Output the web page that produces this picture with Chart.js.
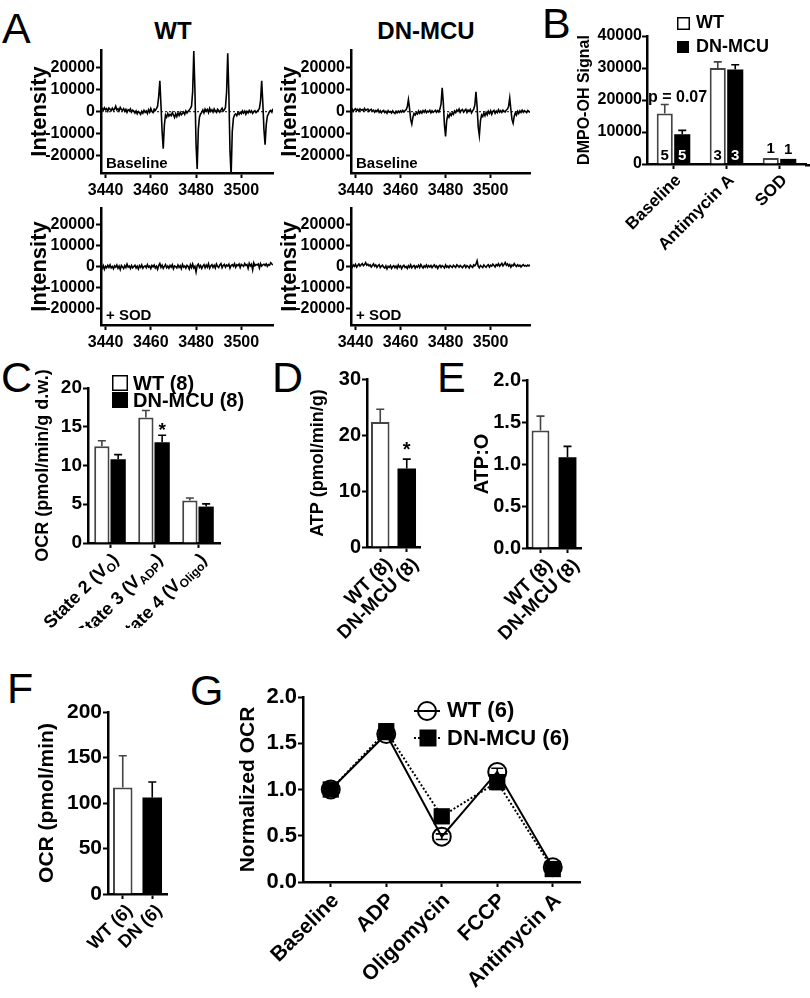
<!DOCTYPE html>
<html><head><meta charset="utf-8">
<script src="https://cdn.jsdelivr.net/npm/chart.js@4.4.0/dist/chart.umd.min.js"></script>
<style>
html,body{margin:0;padding:0;background:#fff;}
#wrap{position:relative;width:810px;height:998px;overflow:hidden;background:#fff;}
canvas{position:absolute;}
.lt{position:absolute;font-family:"Liberation Sans",Arial,sans-serif;font-weight:400;font-size:43px;line-height:1;color:#000;}
.ttl{position:absolute;font-family:"Liberation Sans",Arial,sans-serif;font-weight:700;font-size:24px;line-height:1;color:#000;transform:translateX(-50%);white-space:nowrap;}
</style></head><body><div id="wrap">
<div class="lt" style="left:2px;top:7px">A</div>
<div class="lt" style="left:542px;top:2px">B</div>
<div class="lt" style="left:1px;top:356px">C</div>
<div class="lt" style="left:272px;top:356px">D</div>
<div class="lt" style="left:437px;top:356px">E</div>
<div class="lt" style="left:7px;top:667px">F</div>
<div class="lt" style="left:190px;top:669px">G</div>
<div class="ttl" style="left:173px;top:19px">WT</div>
<div class="ttl" style="left:426px;top:19px">DN-MCU</div>
</div>
<script>
// ---------------- DATA ----------------
const aField = [3438,3438.5,3439,3439.5,3440,3440.5,3441,3441.5,3442,3442.5,
3443,3443.5,3444,3444.5,3445,3445.5,3446,3446.5,3447,3447.5,
3448,3448.5,3449,3449.5,3450,3450.5,3451,3451.5,3452,3452.5,
3453,3453.5,3454,3454.5,3455,3455.5,3456,3456.5,3457,3457.5,
3458,3458.5,3459,3459.5,3460,3460.5,3461,3461.5,3462,3462.5,
3463,3463.5,3464,3464.5,3465,3465.5,3466,3466.5,3467,3467.5,
3468,3468.5,3469,3469.5,3470,3470.5,3471,3471.5,3472,3472.5,
3473,3473.5,3474,3474.5,3475,3475.5,3476,3476.5,3477,3477.5,
3478,3478.5,3479,3479.5,3480,3480.5,3481,3481.5,3482,3482.5,
3483,3483.5,3484,3484.5,3485,3485.5,3486,3486.5,3487,3487.5,
3488,3488.5,3489,3489.5,3490,3490.5,3491,3491.5,3492,3492.5,
3493,3493.5,3494,3494.5,3495,3495.5,3496,3496.5,3497,3497.5,
3498,3498.5,3499,3499.5,3500,3500.5,3501,3501.5,3502,3502.5,
3503,3503.5,3504,3504.5,3505,3505.5,3506,3506.5,3507,3507.5,
3508,3508.5,3509,3509.5,3510,3510.5,3511,3511.5,3512,3512.5,
3513,3513.5,3514,3514.5,3515,3515.5,3516,3516.5,3517,3517.5,3518];

const aWTBase = [800,1500,600,1800,900,1400,300,1700,1100,500,
1600,700,1200,2500,800,1300,400,1900,1000,600,
1400,200,1100,-300,900,500,1300,-200,700,300,
-600,400,-900,100,-400,-1200,200,-700,600,-300,
300,-800,900,-200,1500,100,-400,1200,600,1400,
2500,7000,14000,3000,-9000,-16800,-6000,-1500,-2500,-800,
-2000,-1200,-1800,-400,-1500,-2600,-900,-2200,-600,-1700,
-300,-1400,-800,-100,-1200,300,-600,200,800,1500,
2500,9000,27500,10000,-15000,-26000,-8000,-2500,-1000,-300,
800,-500,1200,300,1000,-400,1500,200,900,-200,
1300,400,-300,1100,600,-200,800,1600,300,900,
2000,9000,26500,8000,-18000,-29000,-9000,-3000,-1500,-1000,
-1800,-400,-1200,-200,-900,400,-600,300,-1100,200,
-500,600,-300,400,-700,100,500,-400,200,700,
1500,5000,14000,4000,-8000,-15000,-6000,-2000,-1000,200,
600,-200,1300];

const aDNBase = [600,1200,200,1000,1400,500,1100,300,1300,700,
1000,400,1500,600,900,1200,200,800,1100,300,
700,-200,600,100,900,-300,400,-500,300,600,
-400,200,-700,500,-200,100,-600,400,-300,-800,
200,-500,300,-300,400,-200,600,-100,500,900,
2200,5500,1500,-3500,-5600,-2500,-800,-1500,-400,-1000,
300,-700,200,-600,500,-200,700,-400,300,-100,
600,-500,400,-300,200,700,-200,500,-100,1200,
3500,10800,4000,-6000,-11200,-4000,-1500,-2500,-800,-1700,
-500,-1200,300,-400,800,200,1200,-300,600,1000,
-200,500,1100,-300,700,200,1000,-500,400,1200,
3000,9000,2500,-7000,-10800,-4000,-1500,-2200,-600,-1800,
-300,-1400,200,-800,400,-1200,100,600,-700,300,
-400,900,-200,500,-300,700,200,-100,800,1200,
2500,6200,1000,-3500,-5200,-2000,-500,-1500,200,-800,
400,-300,700,-200,500,100,-400,600,200,-300,400];

const aWTSOD = [300,-800,500,-1200,200,-500,700,-300,900,-600,
100,-1000,400,-200,800,-700,300,-1300,600,-100,
-900,500,-400,1200,-200,300,-800,600,-500,100,
700,-600,200,-1100,500,-300,900,-700,100,400,
-500,1000,-200,300,-900,600,-100,800,-600,200,
-1200,500,1500,-300,700,-800,200,1000,-500,300,
-700,600,-200,900,-1000,400,100,-600,800,-300,
500,-900,1100,-200,300,-700,600,100,-1100,900,
-400,1300,-600,200,-2500,500,1200,-300,600,-800,
300,1000,-500,800,-200,1400,-700,400,1000,-300,
700,-600,1300,200,-400,900,1500,-500,600,1100,
-200,800,300,1200,-700,600,1000,200,1400,-300,
900,500,1300,-400,1100,700,200,1500,600,1000,
-800,1600,400,1200,-1500,1800,500,1100,800,1300,
-600,1500,300,900,1200,600,1400,200,1000,700,
1900,1300,800];

const aDNSOD = [400,-300,800,200,1100,-200,600,1300,300,900,
1500,500,1000,2000,700,1200,400,900,-100,600,
1400,200,800,-300,500,1000,-400,300,700,-200,
-600,400,-1000,200,-300,600,-800,100,500,-500,
300,-700,800,-200,400,-900,200,700,-400,100,
-800,500,-300,900,-500,200,600,-700,300,-200,
700,-400,1000,100,-600,400,-200,800,-300,500,
-100,600,-500,300,900,-200,400,-800,200,700,
-300,500,100,-600,800,-200,300,-500,600,100,
-400,700,200,-300,900,400,-200,600,100,-500,
300,800,-400,500,100,-600,700,200,-300,900,
400,1200,2800,300,-500,600,100,-400,800,200,
-300,500,900,-200,700,300,1200,600,-100,1000,
500,1400,200,900,1600,400,1100,2000,700,1300,
300,1000,-200,800,400,1500,600,100,900,300,
700,-100,500,1000,300,600,200,800,400,900,300];

const aXTicks = [3440, 3460, 3480, 3500];
const aYTicks = [-20000, -10000, 0, 10000, 20000];

const bCats = ['Baseline', 'Antimycin A', 'SOD'];
const bWT = [15800, 30000, 1900];
const bWTErr = [2800, 1900, 0];
const bDN = [9300, 29500, 1600];
const bDNErr = [1200, 1500, 0];
const bNWT = ['5', '3', '1'];
const bNDN = ['5', '3', '1'];
const bYTicks = [0, 10000, 20000, 30000, 40000];

const cLabelMain = ['State 2 (V', 'State 3 (V', 'State 4 (V'];
const cLabelSub = ['O', 'ADP', 'Oligo'];
const cWT = [12.5, 16.2, 5.5];
const cWTErr = [0.7, 0.9, 0.3];
const cDN = [10.8, 13.0, 4.7];
const cDNErr = [0.6, 0.9, 0.35];
const cDNStar = [false, true, false];
const cYTicks = [0, 5, 10, 15, 20];

const dCats = ['WT (8)', 'DN-MCU (8)'];
const dVals = [22.3, 14.0];
const dErr = [2.3, 1.7];
const dStar = [false, true];
const dYTicks = [0, 10, 20, 30];

const eCats = ['WT (8)', 'DN-MCU (8)'];
const eVals = [1.40, 1.08];
const eErr = [0.17, 0.13];
const eYTicks = [0, 0.5, 1, 1.5, 2];
const eYLabels = ['0.0', '0.5', '1.0', '1.5', '2.0'];

const fCats = ['WT (6)', 'DN (6)'];
const fVals = [117, 106];
const fErr = [35, 17];
const fYTicks = [0, 50, 100, 150, 200];

const gCats = ['Baseline', 'ADP', 'Oligomycin', 'FCCP', 'Antimycin A'];
const gWT = [1.0, 1.60, 0.49, 1.19, 0.16];
const gWTErr = [0.02, 0.06, 0.03, 0.04, 0.02];
const gDN = [1.0, 1.63, 0.71, 1.08, 0.14];
const gDNErr = [0.03, 0.08, 0.03, 0.08, 0.03];
const gYTicks = [0, 0.5, 1, 1.5, 2];
const gYLabels = ['0.0', '0.5', '1.0', '1.5', '2.0'];

// ---------------- HELPERS ----------------
const FONT = '"Liberation Sans", Arial, Helvetica, sans-serif';
Chart.defaults.font.family = FONT;
Chart.defaults.color = '#000';
const wrap = document.getElementById('wrap');

function txt(ctx, s, x, y, size, o) {
  o = o || {};
  ctx.save();
  ctx.font = (o.weight || 'bold') + ' ' + size + 'px ' + FONT;
  ctx.fillStyle = o.color || '#000';
  ctx.textAlign = o.align || 'left';
  ctx.textBaseline = o.base || 'middle';
  ctx.fillText(s, x, y);
  ctx.restore();
}
function rotLabel(ctx, x, y, main, sub, size, subSize) {
  ctx.save();
  ctx.translate(x, y);
  ctx.rotate(-Math.PI / 4);
  ctx.fillStyle = '#000';
  ctx.textBaseline = 'middle';
  ctx.textAlign = 'left';
  const big = 'bold ' + size + 'px ' + FONT, small = 'bold ' + subSize + 'px ' + FONT;
  ctx.font = big; const w1 = ctx.measureText(main).width; const w3 = sub ? ctx.measureText(')').width : 0;
  ctx.font = small; const w2 = sub ? ctx.measureText(sub).width : 0;
  let cx = -(w1 + w2 + w3);
  ctx.font = big; ctx.fillText(main, cx, 0); cx += w1;
  if (sub) {
    ctx.font = small; ctx.fillText(sub, cx, size * 0.28); cx += w2;
    ctx.font = big; ctx.fillText(')', cx, 0);
  }
  ctx.restore();
}
function yScale(o) {
  return {
    type: 'linear', position: 'left', min: o.min, max: o.max,
    afterBuildTicks: s => { s.ticks = o.ticks.map(v => ({ value: v })); },
    border: { display: true, color: '#000', width: 2.5 },
    grid: { display: true, drawOnChartArea: false, drawTicks: true, tickLength: 5, tickColor: '#000', tickWidth: 2 },
    ticks: { autoSkip: false, padding: o.pad == null ? 1 : o.pad, color: '#000',
      font: { family: FONT, size: o.size, weight: 'bold' },
      callback: (v, i) => o.labels ? o.labels[i] : String(v) },
    title: { display: true, text: o.title, color: '#000',
      font: { family: FONT, size: o.tsize, weight: 'bold' }, padding: { top: 0, bottom: 0 } }
  };
}
function xCat() {
  return {
    type: 'category', position: 'bottom', offset: true,
    border: { display: true, color: '#000', width: 2.5 },
    grid: { display: true, offset: false, drawOnChartArea: false, drawTicks: true, tickLength: 5, tickColor: '#000', tickWidth: 2 },
    ticks: { display: false }
  };
}
function makeChart(g, type, data, scales, hooks) {
  const cl = g.L - g.yw, ct = g.T - g.pt;
  const cw = g.R - g.L + g.yw + g.pr, ch = g.B - g.T + g.pt + g.xh;
  const c = document.createElement('canvas');
  c.width = cw; c.height = ch;
  c.style.left = cl + 'px'; c.style.top = ct + 'px';
  c.style.width = cw + 'px'; c.style.height = ch + 'px';
  wrap.appendChild(c);
  scales.y.title.padding = { top: g.titleX - cl - scales.y.title.font.size * 0.6, bottom: 0 };
  scales.y.afterFit = s => { s.width = g.yw; s.paddingTop = 0; s.paddingBottom = 0; s.paddingLeft = 0; s.paddingRight = 0; };
  scales.x.afterFit = s => { s.height = g.xh; s.paddingTop = 0; s.paddingBottom = 0; s.paddingLeft = 0; s.paddingRight = 0; };
  const o = { x: cl, y: ct };
  const run = (fn, chart) => { if (!fn) return; const ctx = chart.ctx; ctx.save(); ctx.translate(-cl, -ct); fn(chart, ctx, o); ctx.restore(); };
  return new Chart(c, {
    type, data,
    options: {
      responsive: false, maintainAspectRatio: false, animation: false, devicePixelRatio: 1,
      layout: { padding: { left: 0, top: g.pt, right: g.pr, bottom: 0 } },
      scales,
      plugins: { legend: { display: false }, tooltip: { enabled: false } }
    },
    plugins: [{ id: 'extra',
      beforeDatasetsDraw(chart) { run(hooks && hooks.pre, chart); },
      afterDatasetsDraw(chart) { run(hooks && hooks.post, chart); } }]
  });
}
function barErrs(chart, ctx, o, ds, errs, colors, cap) {
  const meta = chart.getDatasetMeta(ds), ys = chart.scales.y, vals = chart.data.datasets[ds].data;
  meta.data.forEach((b, i) => {
    if (!errs[i]) return;
    const x = b.x + o.x, y0 = b.y + o.y, y1 = ys.getPixelForValue(vals[i] + errs[i]) + o.y;
    ctx.save();
    ctx.strokeStyle = Array.isArray(colors) ? colors[i] : colors;
    ctx.lineWidth = 1.6;
    ctx.beginPath(); ctx.moveTo(x, y0); ctx.lineTo(x, y1);
    ctx.moveTo(x - cap / 2, y1); ctx.lineTo(x + cap / 2, y1); ctx.stroke();
    ctx.restore();
  });
}
function xLabels(chart, ctx, o, mains, subs, size, subSize, dx) {
  const xs = chart.scales.x, bottom = chart.chartArea.bottom + o.y;
  mains.forEach((m, i) => {
    const x = xs.getPixelForValue(i) + o.x;
    rotLabel(ctx, x + (dx == null ? 6 : dx), bottom + 6 + size * 0.45, m, subs ? subs[i] : '', size, subSize);
  });
}

// ---------------- PANEL A ----------------
function aChart(g, arr, xmax, note, zero) {
  const pts = arr.map((v, i) => ({ x: aField[i], y: v }));
  const y = yScale({ min: -27800, max: 28000, ticks: aYTicks, size: 16, title: 'Intensity', tsize: 22 });
  const x = {
    type: 'linear', position: 'bottom', min: 3438, max: xmax,
    afterBuildTicks: s => { s.ticks = aXTicks.map(v => ({ value: v })); },
    border: { display: true, color: '#000', width: 2.5 },
    grid: { display: true, drawOnChartArea: false, drawTicks: true, tickLength: 5, tickColor: '#000', tickWidth: 2 },
    ticks: { autoSkip: false, maxRotation: 0, minRotation: 0, padding: 3, color: '#000',
      font: { family: FONT, size: 16, weight: 'bold' }, callback: (v) => String(v) }
  };
  makeChart(g, 'line', { datasets: [{ data: pts, borderColor: '#000', borderWidth: 1.6, pointRadius: 0, tension: 0, fill: false }] },
    { x, y }, {
      pre: zero ? (chart, ctx, o) => {
        const ca = chart.chartArea, y0 = chart.scales.y.getPixelForValue(0) + o.y;
        ctx.strokeStyle = '#000'; ctx.lineWidth = 1; ctx.setLineDash([2, 2]);
        ctx.beginPath(); ctx.moveTo(ca.left + o.x, y0); ctx.lineTo(ca.right + o.x, y0); ctx.stroke();
      } : null,
      post: (chart, ctx, o) => {
        txt(ctx, note, chart.chartArea.left + o.x + 5, chart.chartArea.bottom + o.y - 9, 15);
      }
    });
}
aChart({ L: 101, R: 273, T: 50, B: 173, yw: 101, pt: 10, pr: 7, xh: 30, titleX: 40 }, aWTBase, 3514, 'Baseline', true);
aChart({ L: 351, R: 530, T: 50, B: 173, yw: 81, pt: 10, pr: 10, xh: 30, titleX: 290 }, aDNBase, 3517.5, 'Baseline', true);
aChart({ L: 101, R: 273, T: 208, B: 325, yw: 101, pt: 10, pr: 7, xh: 30, titleX: 40 }, aWTSOD, 3514, '+ SOD', false);
aChart({ L: 351, R: 530, T: 208, B: 325, yw: 81, pt: 10, pr: 10, xh: 30, titleX: 290 }, aDNSOD, 3517.5, '+ SOD', false);

// ---------------- PANEL B ----------------
makeChart({ L: 647, R: 806, T: 36, B: 164, yw: 87, pt: 36, pr: 4, xh: 90, titleX: 585 }, 'bar',
  { labels: bCats, datasets: [
    { data: bWT, backgroundColor: '#fff', borderColor: '#444', borderWidth: 2, categoryPercentage: 0.66, barPercentage: 0.92 },
    { data: bDN, backgroundColor: '#000', borderColor: '#000', borderWidth: 0, categoryPercentage: 0.66, barPercentage: 0.92 }
  ] },
  { x: xCat(), y: yScale({ min: 0, max: 40000, ticks: bYTicks, size: 16, title: 'DMPO-OH Signal', tsize: 16, pad: 0 }) },
  { post: (chart, ctx, o) => {
    const ca = chart.chartArea;
    ctx.save(); ctx.strokeStyle = '#000'; ctx.lineWidth = 2.5;
    ctx.beginPath(); ctx.moveTo(ca.right + o.x - 1, ca.bottom + o.y + 1.25); ctx.lineTo(810, ca.bottom + o.y + 1.25); ctx.stroke(); ctx.restore();
    barErrs(chart, ctx, o, 0, bWTErr, '#444', 8);
    barErrs(chart, ctx, o, 1, bDNErr, '#000', 8);
    [[0, bNWT, '#000'], [1, bNDN, '#fff']].forEach(([ds, ns, col]) => {
      chart.getDatasetMeta(ds).data.forEach((b, i) => {
        const h = b.base - b.y;
        if (h > 20) txt(ctx, ns[i], b.x + o.x, ca.bottom + o.y - 8, 15, { align: 'center', color: col });
        else txt(ctx, ns[i], b.x + o.x, b.y + o.y - 9, 15, { align: 'center' });
      });
    });
    txt(ctx, 'p = 0.07', 648, 98, 16);
    ctx.save(); ctx.lineWidth = 1.5; ctx.strokeStyle = '#000'; ctx.fillStyle = '#fff';
    ctx.fillRect(677, 17, 12, 12); ctx.strokeRect(677.75, 17.75, 11.5, 11.5);
    ctx.fillStyle = '#000'; ctx.fillRect(677, 41, 12, 12); ctx.restore();
    txt(ctx, 'WT', 696, 23.5, 18);
    txt(ctx, 'DN-MCU', 696, 47.5, 18);
    xLabels(chart, ctx, o, bCats, null, 17, 11, 5);
  } });

// ---------------- PANEL C ----------------
makeChart({ L: 88, R: 220, T: 388, B: 543, yw: 88, pt: 20, pr: 25, xh: 85, titleX: 43 }, 'bar',
  { labels: cLabelMain, datasets: [
    { data: cWT, backgroundColor: '#fff', borderColor: '#444', borderWidth: 2, categoryPercentage: 0.74, barPercentage: 0.94 },
    { data: cDN, backgroundColor: '#000', borderColor: '#000', borderWidth: 0, categoryPercentage: 0.74, barPercentage: 0.94 }
  ] },
  { x: xCat(), y: yScale({ min: 0, max: 20, ticks: cYTicks, size: 19, title: 'OCR (pmol/min/g d.w.)', tsize: 18 }) },
  { post: (chart, ctx, o) => {
    barErrs(chart, ctx, o, 0, cWTErr, '#444', 8);
    barErrs(chart, ctx, o, 1, cDNErr, '#000', 8);
    chart.getDatasetMeta(1).data.forEach((b, i) => {
      if (!cDNStar[i]) return;
      const yt = chart.scales.y.getPixelForValue(cDN[i] + cDNErr[i]) + o.y;
      txt(ctx, '*', b.x + o.x, yt + 1, 19, { align: 'center', base: 'alphabetic' });
    });
    ctx.save(); ctx.lineWidth = 1.5; ctx.strokeStyle = '#000'; ctx.fillStyle = '#fff';
    ctx.fillRect(112, 375, 15, 15); ctx.strokeRect(112.75, 375.75, 14.5, 14.5);
    ctx.fillStyle = '#000'; ctx.fillRect(112, 392, 16, 16); ctx.restore();
    txt(ctx, 'WT (8)', 133, 384, 20);
    txt(ctx, 'DN-MCU (8)', 133, 401, 20);
    xLabels(chart, ctx, o, cLabelMain, cLabelSub, 18, 12, 6);
  } });

// ---------------- PANEL D ----------------
makeChart({ L: 367, R: 420, T: 379, B: 547, yw: 77, pt: 20, pr: 10, xh: 95, titleX: 318 }, 'bar',
  { labels: dCats, datasets: [
    { data: dVals, backgroundColor: ['#fff', '#000'], borderColor: ['#444', '#000'], borderWidth: [2, 0], categoryPercentage: 0.76, barPercentage: 0.92 }
  ] },
  { x: xCat(), y: yScale({ min: 0, max: 30, ticks: dYTicks, size: 20, title: 'ATP (pmol/min/g)', tsize: 18 }) },
  { post: (chart, ctx, o) => {
    barErrs(chart, ctx, o, 0, dErr, ['#444', '#000'], 8);
    chart.getDatasetMeta(0).data.forEach((b, i) => {
      if (!dStar[i]) return;
      const yt = chart.scales.y.getPixelForValue(dVals[i] + dErr[i]) + o.y;
      txt(ctx, '*', b.x + o.x, yt - 3, 20, { align: 'center', base: 'alphabetic' });
    });
    xLabels(chart, ctx, o, dCats, null, 19, 11, 9);
  } });

// ---------------- PANEL E ----------------
makeChart({ L: 527, R: 581, T: 380, B: 548, yw: 62, pt: 20, pr: 10, xh: 95, titleX: 482 }, 'bar',
  { labels: eCats, datasets: [
    { data: eVals, backgroundColor: ['#fff', '#000'], borderColor: ['#444', '#000'], borderWidth: [2, 0], categoryPercentage: 0.72, barPercentage: 0.92 }
  ] },
  { x: xCat(), y: yScale({ min: 0, max: 2, ticks: eYTicks, labels: eYLabels, size: 20, title: 'ATP:O', tsize: 20 }) },
  { post: (chart, ctx, o) => {
    barErrs(chart, ctx, o, 0, eErr, ['#444', '#000'], 8);
    xLabels(chart, ctx, o, eCats, null, 19, 11, 9);
  } });

// ---------------- PANEL F ----------------
makeChart({ L: 108, R: 167, T: 712, B: 894, yw: 108, pt: 15, pr: 10, xh: 90, titleX: 47 }, 'bar',
  { labels: fCats, datasets: [
    { data: fVals, backgroundColor: ['#fff', '#000'], borderColor: ['#444', '#000'], borderWidth: [2, 0], categoryPercentage: 0.72, barPercentage: 0.92 }
  ] },
  { x: xCat(), y: yScale({ min: 0, max: 200, ticks: fYTicks, size: 21, title: 'OCR (pmol/min)', tsize: 21 }) },
  { post: (chart, ctx, o) => {
    barErrs(chart, ctx, o, 0, fErr, ['#444', '#000'], 8);
    xLabels(chart, ctx, o, fCats, null, 18, 11, 7);
  } });

// ---------------- PANEL G ----------------
makeChart({ L: 303, R: 582, T: 697, B: 882, yw: 103, pt: 15, pr: 10, xh: 112, titleX: 248 }, 'line',
  { labels: gCats, datasets: [
    { data: gWT, borderColor: '#000', borderWidth: 2, tension: 0, fill: false, clip: false,
      pointStyle: 'circle', pointRadius: 9, pointBorderWidth: 2, pointBorderColor: '#000', pointBackgroundColor: 'rgba(0,0,0,0)' },
    { data: gDN, borderColor: '#000', borderWidth: 2, borderDash: [2, 2], tension: 0, fill: false, clip: false,
      pointStyle: 'rect', pointRadius: 11.5, pointBorderWidth: 0, pointBorderColor: '#000', pointBackgroundColor: '#000' }
  ] },
  { x: xCat(), y: yScale({ min: 0, max: 2, ticks: gYTicks, labels: gYLabels, size: 22, title: 'Normalized OCR', tsize: 21 }) },
  { post: (chart, ctx, o) => {
    const ys = chart.scales.y;
    [[0, gWT, gWTErr], [1, gDN, gDNErr]].forEach(([ds, vals, errs]) => {
      chart.getDatasetMeta(ds).data.forEach((p, i) => {
        const x = p.x + o.x, y1 = ys.getPixelForValue(vals[i] + errs[i]) + o.y, y2 = ys.getPixelForValue(vals[i] - errs[i]) + o.y;
        ctx.save(); ctx.strokeStyle = '#000'; ctx.lineWidth = 1.6;
        ctx.beginPath(); ctx.moveTo(x, y1); ctx.lineTo(x, y2);
        ctx.moveTo(x - 6, y1); ctx.lineTo(x + 6, y1); ctx.moveTo(x - 6, y2); ctx.lineTo(x + 6, y2); ctx.stroke(); ctx.restore();
      });
    });
    ctx.save(); ctx.strokeStyle = '#000'; ctx.lineWidth = 2;
    ctx.beginPath(); ctx.moveTo(414, 711); ctx.lineTo(440, 711); ctx.stroke();
    ctx.beginPath(); ctx.arc(427, 711, 9, 0, Math.PI * 2); ctx.stroke();
    ctx.setLineDash([2, 2]); ctx.beginPath(); ctx.moveTo(414, 738); ctx.lineTo(442, 738); ctx.stroke();
    ctx.fillStyle = '#000'; ctx.fillRect(419.5, 729.5, 17, 17);
    ctx.restore();
    txt(ctx, 'WT (6)', 447, 711, 22);
    txt(ctx, 'DN-MCU (6)', 447, 739, 22);
    xLabels(chart, ctx, o, gCats, null, 21, 11, 5);
  } });
</script>
</body></html>
